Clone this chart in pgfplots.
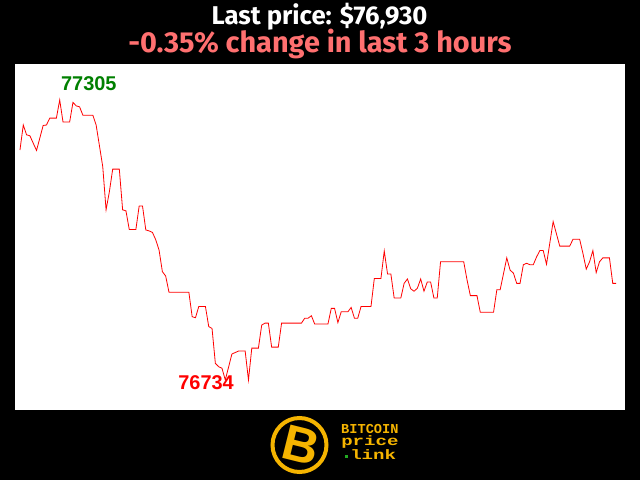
\documentclass[border=0pt]{standalone}
\usepackage{pgfplots}
\pgfplotsset{compat=1.18}
\usepackage{fontspec}
\setmainfont{Liberation Sans}
\newfontfamily\titlefont{Fira Sans}
\newfontfamily\monofont{Liberation Mono}

\definecolor{salmon}{HTML}{FF7070}
\definecolor{gold}{HTML}{F5B400}
\definecolor{hiGreen}{HTML}{008000}
\definecolor{dotGreen}{HTML}{22AA22}

\begin{document}
\begin{tikzpicture}
\fill[black] (0bp,0bp) rectangle (640bp,480bp);

% header
\node[anchor=base, white, inner sep=0, font=\titlefont\bfseries\fontsize{25.8}{26}\selectfont] at (319.5bp,455bp) {Last price: \$76,930};
\node[anchor=base, salmon, inner sep=0, font=\titlefont\bfseries\fontsize{29}{29}\selectfont] at (320bp,427bp) {-0.35\% change in last 3 hours};

\begin{axis}[
    at={(15bp,70bp)}, anchor=south west,
    scale only axis,
    width=610bp, height=346bp,
    xmin=-1.5, xmax=182.7,
    ymin=76672.8, ymax=77378.4,
    axis line style={draw=none},
    xtick=\empty, ytick=\empty,
    axis background/.style={fill=white},
]
\addplot[red, line width=0.8bp] coordinates {
(0,77203) (1,77254) (2,77234) (3,77232) (5,77202) (7,77253) (8,77254)
(9,77268) (11,77268) (12,77305) (13,77260) (15,77260) (16,77300) (17,77293)
(18,77291) (19,77274) (22,77274) (23,77254) (25,77169) (26,77081) (27,77118)
(28,77164) (30,77164) (31,77081) (32,77079) (33,77041) (35,77041) (36,77089)
(37,77089) (38,77040) (39,77038) (40,77035) (41,77020) (42,76999) (43,76955)
(44,76946) (45,76913) (51,76913) (52,76863) (53,76861) (54,76884) (56,76884)
(57,76843) (58,76839) (59,76768) (60,76761) (61,76758) (62,76734) (64,76787)
(65,76790) (66,76793) (68,76793) (69,76734) (70,76799) (72,76799) (73,76846)
(74,76850) (75,76850) (76,76801) (78,76801) (79,76850) (85,76850) (86,76860)
(87,76860) (88,76865) (89,76848) (93,76848) (94,76880) (95,76880) (96,76851)
(97,76873) (99,76873) (100,76882) (101,76860) (102,76860) (103,76884) (106,76884)
(107,76941) (109,76941) (110,76997) (111,76950) (112,76950) (113,76901) (115,76901)
(116,76931) (117,76940) (118,76920) (119,76915) (120,76921) (121,76940) (122,76915)
(123,76934) (124,76934) (125,76901) (126,76901) (127,76975) (134,76975) (135,76938)
(136,76906) (138,76906) (139,76872) (143,76872) (144,76918) (145,76918) (147,76983)
(148,76958) (149,76952) (150,76931) (151,76931) (152,76969) (153,76972) (154,76969)
(155,76969) (156,76985) (157,76998) (158,76998) (159,76970) (161,77057) (163,77007)
(166,77007) (167,77021) (169,77021) (170,76992) (171,76960) (172,76975) (173,76998)
(174,76953) (175,76975) (176,76983) (178,76983) (179,76931) (180,76931)
};
\node[hiGreen, font=\bfseries\fontsize{20}{20}\selectfont] at (axis cs:20.8,77338) {77305};
\node[red, font=\bfseries\fontsize{20}{20}\selectfont] at (axis cs:56.2,76728) {76734};
\end{axis}

% logo
\draw[gold, line width=4bp, fill=black] (299.5bp,35bp) circle (27bp);
\node[gold, rotate=-14, font=\bfseries\fontsize{50}{50}\selectfont] at (301bp,35bp) {B};
\node[anchor=base west, gold, inner sep=0, font=\monofont\bfseries\fontsize{13.7}{13.7}\selectfont] at (341bp,46.7bp) {BITCOIN};
\node[anchor=base west, gold, inner sep=0, xscale=1.4, font=\monofont\bfseries\fontsize{13.7}{13.7}\selectfont] at (341bp,34.3bp) {price};
\node[anchor=base west, gold, inner sep=0, xscale=1.4, font=\monofont\bfseries\fontsize{13.7}{13.7}\selectfont] at (350bp,20.7bp) {link};
\fill[dotGreen] (345bp,21.7bp) rectangle (348bp,24.7bp);
\end{tikzpicture}
\end{document}
